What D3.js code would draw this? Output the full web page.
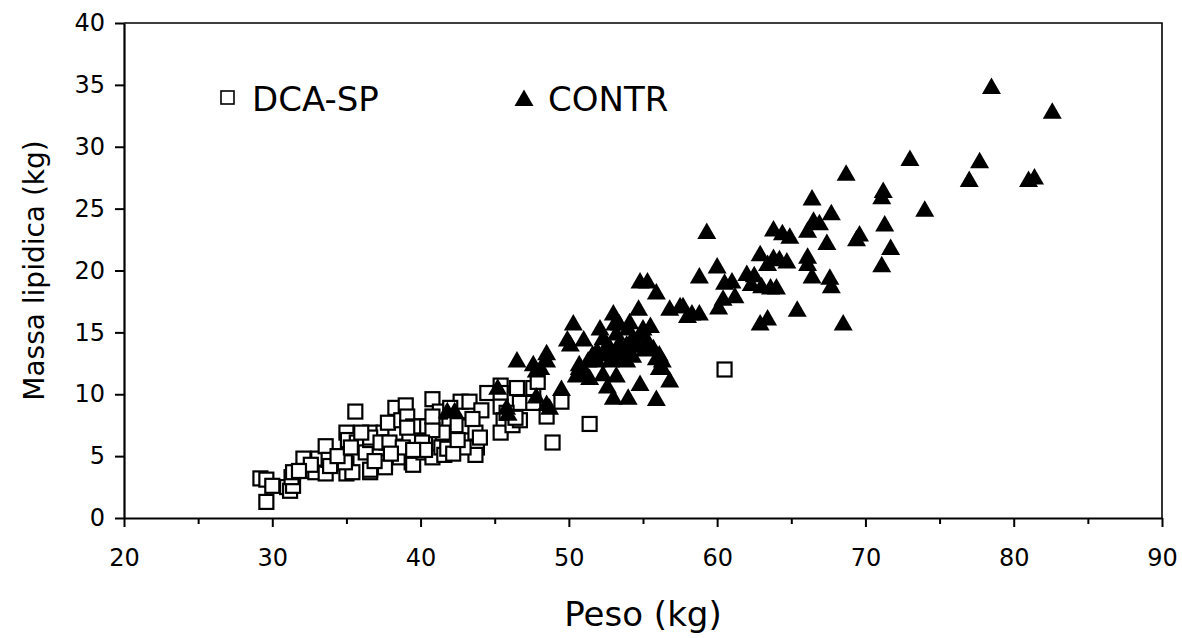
<!DOCTYPE html>
<html>
<head>
<meta charset="utf-8">
<script src="https://cdn.jsdelivr.net/npm/d3@7"></script>
<style>
  body { margin: 0; background: #fff; }
  svg text { font-family: "DejaVu Sans", Verdana, sans-serif; fill: #000; }
</style>
</head>
<body>
<svg id="chart" width="1182" height="638"></svg>
<script>
// DCA-SP group: [peso kg, massa lipidica kg]
var dcaPoints = [
  [29.2,3.2],[29.6,3.1],[29.6,1.3],[30.0,2.6],[31.0,2.5],[31.2,2.2],[31.4,2.6],[31.3,3.3],[31.4,3.7],
  [32.1,4.8],[32.1,3.8],[32.9,3.7],[33.1,4.8],[33.6,5.8],[33.6,3.6],[33.8,4.7],[33.9,4.2],[35.0,6.9],
  [35.1,6.3],[35.6,8.6],[35.0,4.4],[35.0,3.6],[35.4,3.7],[35.7,6.1],[36.3,5.3],[36.6,6.3],[36.6,6.9],
  [36.6,3.7],[37.5,6.9],[37.7,6.1],[37.6,4.5],[37.6,4.1],[38.3,6.9],[38.3,8.9],[39.0,9.1],[40.8,9.6],
  [39.8,7.4],[40.4,7.4],[41.0,7.5],[37.8,7.7],[38.7,7.9],[39.1,8.2],[36.6,6.5],[36.0,6.9],[36.6,3.9],
  [38.6,4.9],[39.4,4.5],[39.5,4.3],[40.3,6.1],[40.2,5.3],[40.8,4.9],[37.3,6.1],[37.9,6.1],[38.8,5.7],
  [41.5,6.9],[41.4,5.7],[41.6,5.1],[34.9,4.5],[32.6,4.3],[31.8,3.8],[42.7,9.4],[43.3,9.4],[44.1,8.7],
  [42.5,7.5],[43.3,7.4],[43.7,6.9],[43.8,5.7],[43.7,5.1],[42.9,5.7],[41.8,5.6],[42.2,5.2],[40.8,7.1],
  [39.5,7.4],[39.1,7.3],[40.1,6.1],[40.3,5.5],[39.5,5.5],[41.3,8.6],[40.8,8.2],[44.5,10.1],[45.4,10.7],
  [45.4,10.1],[46.5,10.5],[47.6,10.5],[45.4,9.0],[45.6,7.9],[45.4,6.9],[46.2,7.5],[46.7,7.9],[46.7,9.3],
  [47.6,9.3],[47.9,11.0],[48.5,8.2],[49.5,9.4],[48.9,6.1],[45.8,8.5],[46.4,8.1],[51.4,7.6],[60.5,12.0],
  [42.0,8.9],[43.5,8.0],[44.0,6.5],[42.5,6.3],[38.0,5.2],[36.9,4.6],[34.4,5.0],[35.3,5.7]
];

// CONTR group
var contrPoints = [
  [78.5,34.9],[82.6,32.9],[73.0,29.1],[77.7,28.9],[77.0,27.4],[81.0,27.4],[81.4,27.6],[74.0,25.0],
  [71.2,26.5],[71.1,26.0],[71.3,23.8],[71.7,21.9],[71.1,20.5],[68.7,27.9],[66.4,25.9],[67.7,24.7],
  [66.5,24.1],[66.9,23.9],[66.1,23.3],[59.3,23.2],[63.8,23.4],[64.4,23.1],[64.9,22.8],[69.6,23.0],
  [69.4,22.6],[67.4,22.3],[62.9,21.4],[63.8,21.1],[64.2,21.0],[64.7,20.8],[66.1,21.2],[66.1,20.6],
  [58.8,19.6],[60.0,20.4],[60.5,19.1],[61.0,19.2],[62.0,19.8],[62.5,19.7],[63.4,20.6],[62.3,19.0],
  [63.0,18.8],[63.6,18.7],[64.0,18.7],[66.4,19.6],[67.6,19.5],[67.7,18.8],[60.4,17.8],[60.1,17.1],
  [61.2,18.0],[57.7,17.2],[58.3,16.6],[58.8,16.6],[65.4,16.9],[62.9,15.8],[63.4,16.2],[68.5,15.8],
  [54.8,19.2],[55.3,19.2],[55.9,18.3],[56.8,17.0],[57.5,17.2],[53.0,16.6],[53.1,15.8],[54.7,17.0],
  [55.5,15.6],[50.3,15.8],[49.9,14.5],[50.1,14.1],[51.0,14.5],[52.1,15.4],[52.3,14.6],[52.6,14.1],
  [53.2,15.0],[53.4,14.2],[53.9,14.1],[54.0,15.4],[54.3,14.6],[54.8,14.8],[55.3,14.4],[55.1,13.7],
  [55.7,13.8],[56.1,13.3],[51.6,13.3],[51.9,12.8],[51.3,12.8],[52.6,13.3],[52.8,12.8],[53.0,13.0],
  [53.6,13.3],[53.9,12.8],[54.3,13.2],[56.1,12.2],[50.7,12.2],[51.2,11.7],[50.5,11.6],[51.4,11.4],
  [53.2,11.6],[52.3,11.7],[52.6,10.7],[54.8,10.9],[56.8,11.2],[53.0,9.8],[54.0,9.8],[55.9,9.7],
  [46.5,12.8],[47.6,12.5],[48.1,12.2],[48.5,13.4],[48.5,12.8],[47.8,12.0],[49.5,10.5],[47.8,9.9],
  [48.5,9.3],[48.7,9.0],[45.2,10.6],[45.8,9.0],[45.9,8.5],[41.8,8.7],[42.3,8.7],[53.4,15.8],
  [54.1,15.9],[55.0,15.4],[51.9,13.6],[52.8,13.8],[53.6,13.8],[54.6,14.0],[55.5,13.8],[55.9,13.0],
  [56.3,12.8],[50.7,12.5],[56.3,12.2],[58.0,16.4]
];

var xTicks = [20, 30, 40, 50, 60, 70, 80, 90];
var xMinorTicks = [25, 35, 45, 55, 65, 75, 85];
var yTicks = [0, 5, 10, 15, 20, 25, 30, 35, 40];
var seriesNames = ["DCA-SP", "CONTR"];
var xTitle = "Peso (kg)";
var yTitle = "Massa lipidica (kg)";

var svg = d3.select("#chart");
var margin = {left: 124, top: 23, right: 20, bottom: 120};
var width = 1182 - margin.left - margin.right,
    height = 638 - margin.top - margin.bottom;

var x = d3.scaleLinear().domain([20, 90]).range([0, width]);
var y = d3.scaleLinear().domain([0, 40]).range([height, 0]);

var g = svg.append("g").attr("transform", "translate(" + margin.left + "," + margin.top + ")");

// frame (top and right)
g.append("path")
  .attr("d", "M0,0H" + width + "V" + height)
  .attr("fill", "none").attr("stroke", "#000").attr("stroke-width", 1.6);

// minor x ticks
g.append("g")
  .attr("transform", "translate(0," + height + ")")
  .call(d3.axisBottom(x).tickValues(xMinorTicks).tickSize(6).tickFormat(""))
  .call(function(a) { a.select(".domain").remove(); })
  .selectAll("line").attr("stroke-width", 2);

var xAxis = g.append("g")
  .attr("transform", "translate(0," + height + ")")
  .call(d3.axisBottom(x).tickValues(xTicks).tickSize(9).tickSizeOuter(0).tickPadding(22));
xAxis.select(".domain").attr("stroke-width", 2.2);
xAxis.selectAll("line").attr("stroke-width", 2);
xAxis.selectAll("text").attr("font-size", 24);

var yAxis = g.append("g")
  .call(d3.axisLeft(y).tickValues(yTicks).tickSize(9).tickSizeOuter(0).tickPadding(10));
yAxis.select(".domain").attr("stroke-width", 2.2);
yAxis.selectAll("line").attr("stroke-width", 2);
yAxis.selectAll("text").attr("font-size", 24);

// axis titles
svg.append("text")
  .attr("x", margin.left + width / 2).attr("y", 626)
  .attr("text-anchor", "middle").attr("font-size", 34)
  .text(xTitle);
svg.append("text")
  .attr("transform", "translate(44," + (margin.top + height / 2) + ") rotate(-90)")
  .attr("text-anchor", "middle").attr("font-size", 28)
  .text(yTitle);

var triPath = "M0,-8.5L9.5,8L-9.5,8Z";

// squares
g.append("g").selectAll("rect")
  .data(dcaPoints).enter().append("rect")
  .attr("x", function(d) { return x(d[0]) - 7; })
  .attr("y", function(d) { return y(d[1]) - 7; })
  .attr("width", 14).attr("height", 14)
  .attr("fill", "#fff").attr("stroke", "#000").attr("stroke-width", 2.2);

// triangles
g.append("g").selectAll("path")
  .data(contrPoints).enter().append("path")
  .attr("d", triPath)
  .attr("transform", function(d) { return "translate(" + x(d[0]) + "," + y(d[1]) + ")"; })
  .attr("fill", "#000");

// legend
var leg = svg.append("g");
leg.append("rect").attr("x", 221).attr("y", 91).attr("width", 13).attr("height", 13)
  .attr("fill", "#fff").attr("stroke", "#000").attr("stroke-width", 1.6);
leg.append("text").attr("x", 252).attr("y", 111).attr("font-size", 34).text(seriesNames[0]);
leg.append("path").attr("d", triPath).attr("transform", "translate(524,98)").attr("fill", "#000");
leg.append("text").attr("x", 548).attr("y", 111).attr("font-size", 34).text(seriesNames[1]);
</script>
</body>
</html>
